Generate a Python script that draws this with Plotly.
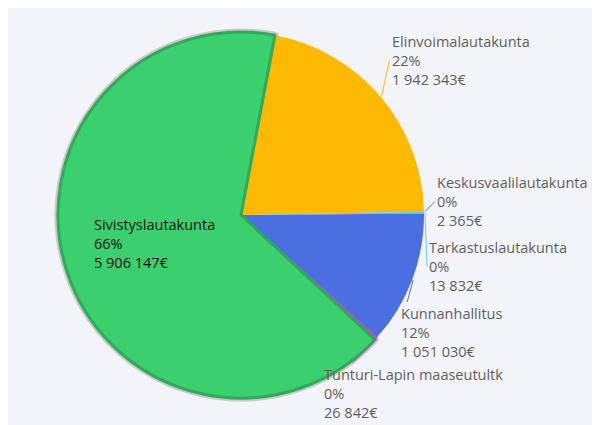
import math
import plotly.graph_objects as go

labels = ["Elinvoimalautakunta", "Keskusvaalilautakunta", "Tarkastuslautakunta",
          "Kunnanhallitus", "Tunturi-Lapin maaseutultk", "Sivistyslautakunta"]
values = [1942343, 2365, 13832, 1051030, 26842, 5906147]
colors = ["#FFB900", "#2F8FC4", "#5BD3DE", "#4A6FE0", "#B04FC6", "#3CCF6E"]

# layout / style settings
W, H = 592, 417
ROT = 10.7
CX, CY, R = 233, 207, 183          # pie centre / radius in paper pixels
dom_x = [(CX - R) / W, (CX + R) / W]
dom_y = [(H - CY - R) / H, (H - CY + R) / H]
# label tail offsets (pixels) from the leader-line head on the arc
label_offsets = {
    "Elinvoimalautakunta": (8, -36),
    "Keskusvaalilautakunta": (10, -10),
    "Tarkastuslautakunta": (2, 54),
    "Kunnanhallitus": (-14, 52),
    "Tunturi-Lapin maaseutultk": (-55, 54),
}
inside_labels = ["Sivistyslautakunta"]

fig = go.Figure()
# soft grey outline behind the highlighted slice
fig.add_trace(go.Pie(
    labels=labels, values=values, sort=False, direction="clockwise", rotation=ROT,
    marker=dict(colors=["rgba(0,0,0,0)"] * 5 + ["#C9C9CC"],
                line=dict(color=["rgba(0,0,0,0)"] * 5 + ["#C9C9CC"], width=[0] * 5 + [7])),
    textinfo="none", hoverinfo="skip", showlegend=False,
    domain=dict(x=dom_x, y=dom_y),
))
fig.add_trace(go.Pie(
    labels=labels, values=values, sort=False, direction="clockwise", rotation=ROT,
    marker=dict(colors=colors,
                line=dict(color=colors[:5] + ["#2FA95A"], width=[0, 0, 0, 0, 1, 3])),
    textinfo="none", hoverinfo="skip", showlegend=False,
    domain=dict(x=dom_x, y=dom_y),
))

total = sum(values)
annotations = []
cum = 0.0
for lab, val, col in zip(labels, values, colors):
    mid = ROT + (cum + val / 2) / total * 360
    cum += val
    th = math.radians(mid)
    pct = round(val / total * 100)
    num = f"{val:,}".replace(",", " ")
    txt = f"{lab}<br>{pct}%<br>{num}€"
    if lab in inside_labels:
        px = CX + 0.5 * R * math.sin(th)
        py = CY - 0.5 * R * math.cos(th)
        annotations.append(dict(
            x=px / W, y=1 - py / H, xref="paper", yref="paper", text=txt,
            showarrow=False, align="left", xanchor="center", yanchor="middle",
            font=dict(color="#111111", size=14.5)))
    else:
        hx = CX + (R + 1) * math.sin(th)
        hy = CY - (R + 1) * math.cos(th)
        ax, ay = label_offsets[lab]
        annotations.append(dict(
            x=hx / W, y=1 - hy / H, xref="paper", yref="paper", text=txt,
            showarrow=True, arrowhead=0, arrowwidth=1, arrowcolor=col,
            ax=ax, ay=ay, xanchor="left", yanchor="middle", align="left",
            font=dict(color="#605E5C", size=14.5)))

fig.update_layout(
    width=W, height=H,
    margin=dict(l=0, r=0, t=0, b=0),
    paper_bgcolor="#F3F4F9",
    font=dict(family="Open Sans, Noto Sans, sans-serif", size=14.5),
    annotations=annotations,
)
fig.write_html("out.html")
